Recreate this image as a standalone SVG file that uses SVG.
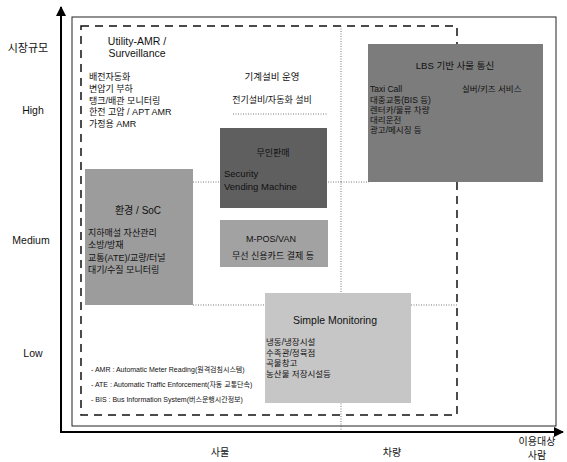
<svg xmlns="http://www.w3.org/2000/svg" width="567" height="462" viewBox="0 0 567 462">
<defs>
<style>
text{font-family:"Liberation Sans","Noto Sans CJK KR",sans-serif;fill:#111;}
.f85{font-size:8.5px;}
.f9{font-size:9px;}
.f95{font-size:9.5px;}
.f10{font-size:10px;}
.f105{font-size:10.5px;}
.f11{font-size:11px;}
.lg{font-size:7px;}
.mid{text-anchor:middle;}
.dot{fill:none;stroke:#555;stroke-width:0.8;stroke-dasharray:1 1.5;}
.axis{fill:none;stroke:#000;stroke-width:2;}
</style>
<marker id="ah" viewBox="0 0 10 10" refX="9" refY="5" markerWidth="5" markerHeight="5" orient="auto" markerUnits="strokeWidth">
<path d="M0,0 L10,5 L0,10 z" fill="#000"/>
</marker>
</defs>
<rect width="567" height="462" fill="#fff"/>

<g id="axes">
<line class="axis" x1="61" y1="432" x2="61" y2="7" marker-end="url(#ah)"/>
<line class="axis" x1="60" y1="432" x2="563" y2="432" marker-end="url(#ah)"/>
<text class="f11 mid" x="28" y="52">시장규모</text>
<text class="f105 mid" x="33" y="114">High</text>
<text class="f105 mid" x="31" y="244">Medium</text>
<text class="f105 mid" x="33" y="357">Low</text>
<text class="f10 mid" x="220" y="456">사물</text>
<text class="f10 mid" x="392" y="456">차량</text>
<text class="f10 mid" x="537" y="445">이용대상</text>
<text class="f10 mid" x="537" y="459">사람</text>
</g>

<g id="frame">
<rect x="72" y="17" width="484" height="409" fill="none" stroke="#222" stroke-width="1"/>
</g>

<g id="dashed-region">
<rect x="81" y="26" width="376" height="389" fill="none" stroke="#111" stroke-width="1.5" stroke-dasharray="8 6"/>
</g>

<g id="connectors">
<line class="dot" x1="341" y1="26" x2="341" y2="430"/>
<line class="dot" x1="233" y1="114" x2="327" y2="114"/>
<line class="dot" x1="341" y1="182" x2="369" y2="182"/>
<line class="dot" x1="193" y1="182" x2="341" y2="182"/>
<line class="dot" x1="193" y1="305" x2="265" y2="305"/>
<line class="dot" x1="411" y1="305" x2="457" y2="305"/>
</g>

<g id="utility-amr">
<text class="f105 mid" x="137" y="45">Utility-AMR /</text>
<text class="f105 mid" x="137" y="57">Surveillance</text>
<text class="f9" x="89" y="80">배전자동화</text>
<text class="f9" x="89" y="92">변압기 부하</text>
<text class="f9" x="89" y="103.5">탱크/배관 모니터링</text>
<text class="f9" x="89" y="115">한전 고압 / APT AMR</text>
<text class="f9" x="89" y="127">가정용 AMR</text>
</g>

<g id="machine-ops">
<text class="f95 mid" x="272" y="80">기계설비 운영</text>
<text class="f9 mid" x="272" y="102.5">전기설비/자동화 설비</text>
</g>

<g id="lbs">
<rect x="368" y="44" width="175" height="138" fill="#7c7c7c"/>
<text class="f95 mid" x="455" y="68.5">LBS 기반 사물 통신</text>
<text class="f85" x="370" y="92">Taxi Call</text>
<text class="f85" x="462" y="92">실버/키즈 서비스</text>
<text class="f85" x="370" y="102.5">대중교통(BIS 등)</text>
<text class="f85" x="370" y="112.5">렌터카/물류 차량</text>
<text class="f85" x="370" y="122.5">대리운전</text>
<text class="f85" x="370" y="132.5">광고/메시징 등</text>
</g>

<g id="unmanned">
<rect x="220" y="128" width="107" height="80" fill="#5f5f5f"/>
<text class="f9 mid" x="273" y="155.5">무인판매</text>
<text class="f95" x="224" y="176.5">Security</text>
<text class="f95" x="224" y="190">Vending Machine</text>
</g>

<g id="environment">
<rect x="85" y="169" width="108" height="136" fill="#9c9c9c"/>
<text class="f10 mid" x="138" y="213.5">환경 / SoC</text>
<text class="f9" x="88" y="236">지하매설 자산관리</text>
<text class="f9" x="88" y="247.5">소방/방재</text>
<text class="f9" x="88" y="261">교통(ATE)/교량/터널</text>
<text class="f9" x="88" y="272.5">대기/수질 모니터링</text>
</g>

<g id="mpos">
<rect x="220" y="220" width="108" height="47" fill="#a2a2a2"/>
<text class="f9 mid" x="271" y="241.5">M-POS/VAN</text>
<text class="f9 mid" x="273" y="258.5">무선 신용카드 결제 등</text>
</g>

<g id="simple-monitoring">
<rect x="265" y="293" width="146" height="110" fill="#c6c6c6"/>
<text class="f105 mid" x="335" y="323.5">Simple Monitoring</text>
<text class="f85" x="266" y="345">냉동/냉장시설</text>
<text class="f85" x="266" y="355.5">수족관/정육점</text>
<text class="f85" x="266" y="366">곡물창고</text>
<text class="f85" x="266" y="376.5">농산물 저장시설등</text>
</g>

<g id="legend">
<text class="lg" x="91" y="371.5">- AMR : Automatic Meter Reading(원격검침시스템)</text>
<text class="lg" x="91" y="387">- ATE : Automatic Traffic Enforcement(자동 교통단속)</text>
<text class="lg" x="91" y="401.5">- BIS : Bus Information System(버스운행시간정보)</text>
</g>
</svg>
